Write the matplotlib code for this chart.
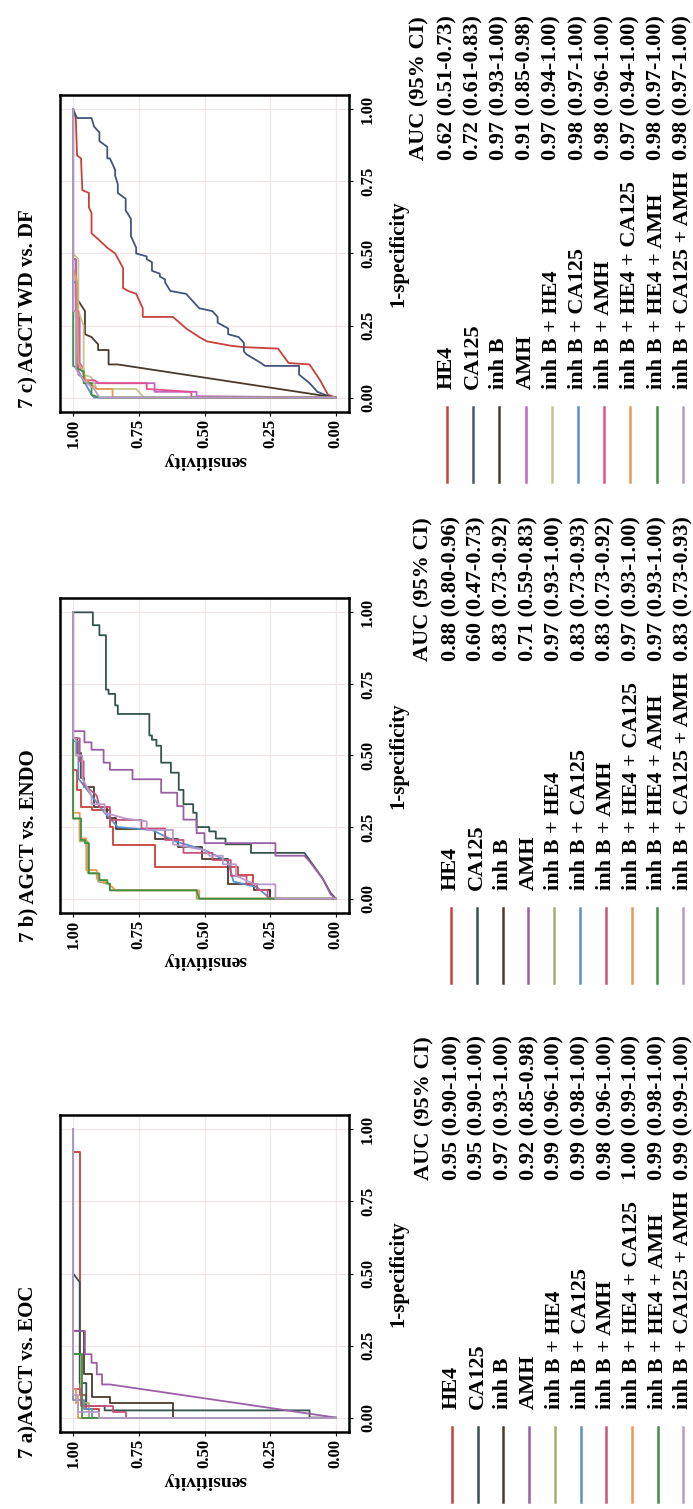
import matplotlib.pyplot as plt

W, H = 693, 1509

plt.rcParams['font.family'] = ['Liberation Serif', 'DejaVu Serif']
plt.rcParams['font.weight'] = 'bold'

markers = ["HE4", "CA125", "inh B", "AMH", "inh B + HE4", "inh B + CA125",
           "inh B + AMH", "inh B + HE4 + CA125", "inh B + HE4 + AMH",
           "inh B + CA125 + AMH"]
colors = ["#C8413A", "#34524E", "#4A3A2E", "#9A5FA6", "#A9AD72", "#5E8FC8",
          "#C9527C", "#E69A52", "#3F8F45", "#B99BCB"]
colors_c = ["#C8413A", "#44547C", "#4A3A2E", "#C464C8", "#C4C68C", "#5E8FC8",
            "#E0528C", "#E69A52", "#3F8F45", "#B99BCB"]

auc_eoc = ["0.95 (0.90-1.00)", "0.95 (0.90-1.00)", "0.97 (0.93-1.00)",
           "0.92 (0.85-0.98)", "0.99 (0.96-1.00)", "0.99 (0.98-1.00)",
           "0.98 (0.96-1.00)", "1.00 (0.99-1.00)", "0.99 (0.98-1.00)",
           "0.99 (0.99-1.00)"]
auc_endo = ["0.88 (0.80-0.96)", "0.60 (0.47-0.73)", "0.83 (0.73-0.92)",
            "0.71 (0.59-0.83)", "0.97 (0.93-1.00)", "0.83 (0.73-0.93)",
            "0.83 (0.73-0.92)", "0.97 (0.93-1.00)", "0.97 (0.93-1.00)",
            "0.83 (0.73-0.93)"]
auc_wddf = ["0.62 (0.51-0.73)", "0.72 (0.61-0.83)", "0.97 (0.93-1.00)",
            "0.91 (0.85-0.98)", "0.97 (0.94-1.00)", "0.98 (0.97-1.00)",
            "0.98 (0.96-1.00)", "0.97 (0.94-1.00)", "0.98 (0.97-1.00)",
            "0.98 (0.97-1.00)"]

# ROC curves as (sensitivity, 1-specificity)
eoc_he4 = [(1, 1), (1, .92), (.975, .92), (.975, .08), (.95, .08), (.95, .03), (.90, .03), (.90, 0), (0, 0)]
eoc_ca125 = [(1, 1), (1, .50), (.975, .47), (.975, .12), (.95, .12), (.95, .04), (.88, .04), (.88, .025),
             (.10, .025), (.10, 0), (0, 0)]
eoc_inhb = [(1, 1), (1, .30), (.96, .30), (.96, .15), (.93, .15), (.93, .07), (.86, .07), (.86, .05),
            (.62, .05), (.62, 0), (0, 0)]
eoc_amh = [(1, 1), (1, .30), (.955, .30), (.955, .22), (.93, .22), (.93, .19), (.91, .19), (.91, .15),
           (.89, .15), (.89, .115), (.86, .115), (0, 0)]
eoc_inhb_he4 = [(1, 1), (1, .22), (.97, .22), (.97, .05), (.94, .05), (.94, 0), (0, 0)]
eoc_inhb_ca125 = [(1, 1), (1, .06), (.96, .06), (.96, .03), (.93, .03), (.93, 0), (0, 0)]
eoc_inhb_amh = [(1, 1), (1, .10), (.97, .10), (.97, .04), (.85, .04), (.85, .02), (.80, .02), (.80, 0), (0, 0)]
eoc_inhb_he4_ca125 = [(1, 1), (1, .10), (.99, .10), (.99, .05), (.98, .05), (.98, 0), (0, 0)]
eoc_inhb_he4_amh = [(1, 1), (1, .22), (.965, .22), (.965, 0), (0, 0)]
eoc_inhb_ca125_amh = [(1, 1), (1, .08), (.98, .08), (.98, .02), (.90, .02), (.90, 0), (0, 0)]

endo_he4 = [(1, 1), (1, .45), (.985, .45), (.985, .38), (.97, .38), (.97, .32), (.93, .32), (.93, .311),
            (.86, .311), (.86, .252), (.848, .252), (.848, .188), (.689, .188), (.689, .111), (.372, .111),
            (.372, .082), (.317, .082), (.317, .05), (.30, .05), (.30, .029), (.25, .029), (.25, 0), (0, 0)]
endo_ca125 = [(1, 1), (.925, 1), (.925, .955), (.90, .955), (.90, .92), (.875, .92), (.875, .73), (.865, .73),
              (.865, .715), (.84, .715), (.84, .675), (.83, .675), (.83, .645), (.71, .645), (.71, .57),
              (.70, .57), (.70, .555), (.683, .555), (.683, .534), (.665, .534), (.665, .475), (.628, .475),
              (.628, .44), (.598, .44), (.598, .38), (.58, .38), (.58, .33), (.543, .33), (.543, .30),
              (.53, .30), (.53, .25), (.482, .25), (.482, .235), (.457, .235), (.457, .21), (.42, .21),
              (.42, .19), (.323, .19), (.323, .16), (.12, .16), (.10, .135), (.05, .07), (.02, .02), (0, 0)]
endo_inhb = [(1, 1), (1, .56), (.985, .56), (.985, .51), (.97, .51), (.97, .42), (.957, .42), (.957, .39),
             (.92, .39), (.92, .32), (.87, .32), (.87, .28), (.835, .28), (.835, .245), (.69, .245), (.69, .21),
             (.60, .21), (.60, .18), (.51, .18), (.51, .14), (.41, .14), (.41, .05), (.31, .05), (.31, .03),
             (.25, .03), (.25, 0), (0, 0)]
endo_amh = [(1, 1), (1, .585), (.957, .585), (.957, .546), (.93, .546), (.93, .52), (.884, .52), (.884, .475),
            (.86, .475), (.86, .45), (.774, .45), (.774, .417), (.665, .417), (.665, .37), (.604, .37),
            (.604, .323), (.58, .323), (.58, .276), (.53, .276), (.53, .229), (.50, .229), (.50, .194),
            (.23, .194), (.23, .15), (.12, .15), (.10, .13), (.05, .07), (.02, .015), (0, 0)]
endo_inhb_he4 = [(1, 1), (1, .28), (.975, .28), (.975, .20), (.945, .20), (.945, .09), (.905, .09), (.905, .06),
                 (.86, .05), (.86, .03), (.53, .03), (.53, 0), (0, 0)]
endo_inhb_ca125 = [(1, 1), (1, .55), (.98, .55), (.98, .42), (.93, .36), (.88, .30), (.83, .25), (.70, .24),
                   (.61, .20), (.50, .17), (.41, .13), (.39, .06), (.30, .04), (.25, 0), (0, 0)]
endo_inhb_amh = [(1, 1), (1, .56), (.975, .56), (.975, .48), (.96, .48), (.96, .40), (.91, .36), (.90, .32),
                 (.86, .32), (.86, .275), (.74, .275), (.74, .245), (.65, .245), (.65, .205), (.58, .205),
                 (.58, .16), (.47, .16), (.47, .135), (.40, .135), (.40, .08), (.34, .08), (.34, .05), (.30, .05),
                 (.30, .03), (.26, .03), (.26, 0), (0, 0)]
endo_inhb_he4_ca125 = [(1, 1), (1, .30), (.975, .30), (.975, .21), (.95, .21), (.95, .10), (.91, .10), (.91, .07),
                       (.88, .06), (.85, .04), (.84, .029), (.52, .029), (.52, 0), (0, 0)]
endo_inhb_he4_amh = [(1, 1), (1, .28), (.97, .28), (.97, .205), (.955, .205), (.955, .194), (.94, .194),
                     (.94, .088), (.90, .088), (.90, .065), (.87, .065), (.87, .053), (.86, .053), (.86, .029),
                     (.53, .029), (.52, 0), (0, 0)]
endo_inhb_ca125_amh = [(1, 1), (1, .56), (.99, .56), (.99, .50), (.965, .50), (.965, .42), (.93, .36), (.93, .33),
                       (.88, .33), (.88, .30), (.80, .28), (.72, .27), (.72, .24), (.62, .24), (.62, .19),
                       (.50, .17), (.48, .15), (.43, .15), (.43, .12), (.38, .12), (.38, .08), (.31, .05),
                       (.23, .05), (.23, 0), (0, 0)]

wddf_he4 = [(1, 1), (.99, .97), (.985, .84), (.97, .83), (.965, .72), (.94, .71), (.94, .66), (.93, .64),
            (.93, .57), (.905, .55), (.87, .52), (.84, .50), (.81, .45), (.81, .38), (.79, .37), (.76, .36),
            (.735, .31), (.735, .28), (.71, .28), (.62, .28), (.57, .24), (.52, .21), (.49, .195), (.40, .18),
            (.35, .175), (.22, .17), (.18, .12), (.10, .115), (.06, .06), (.03, .01), (0, 0)]
wddf_ca125 = [(1, 1), (.985, .97), (.93, .97), (.92, .94), (.90, .92), (.90, .89), (.87, .87), (.87, .83),
              (.86, .83), (.84, .79), (.84, .77), (.83, .74), (.83, .71), (.80, .69), (.80, .65), (.78, .62),
              (.78, .56), (.76, .52), (.76, .50), (.72, .49), (.72, .48), (.70, .47), (.70, .44), (.67, .43),
              (.67, .42), (.65, .41), (.65, .40), (.63, .37), (.57, .36), (.55, .34), (.52, .31), (.47, .30),
              (.45, .28), (.45, .26), (.41, .24), (.41, .22), (.37, .21), (.35, .19), (.35, .16), (.34, .15),
              (.285, .12), (.27, .11), (.14, .11), (.14, .08), (.10, .05), (.07, .02), (.015, 0), (0, 0)]
wddf_inhb = [(1, 1), (1, .48), (.99, .48), (.99, .35), (.955, .30), (.955, .22), (.93, .21), (.905, .185),
             (.905, .165), (.865, .165), (.865, .115), (.83, .115), (0, 0)]
wddf_amh = [(1, 1), (1, .48), (.99, .48), (.99, .28), (.975, .28), (.975, .12), (.96, .10), (.955, .05),
            (.69, .05), (.69, .02), (.53, .02), (.53, .005), (0, 0)]
wddf_inhb_he4 = [(1, 1), (1, .50), (.98, .48), (.98, .30), (.96, .25), (.96, .08), (.93, .07), (.91, .03),
                 (.76, .03), (.73, 0), (0, 0)]
wddf_inhb_ca125 = [(1, 1), (1, .40), (.985, .40), (.985, .10), (.93, .01), (.92, 0), (0, 0)]
wddf_inhb_amh = [(1, 1), (1, .30), (.98, .30), (.98, .08), (.95, .06), (.92, .06), (.90, .05), (.72, .05),
                 (.72, .03), (.55, .02), (.55, 0), (0, 0)]
wddf_inhb_he4_ca125 = [(1, 1), (1, .45), (.985, .40), (.98, .12), (.95, .06), (.91, .03), (.85, .03), (.85, 0), (0, 0)]
wddf_inhb_he4_amh = [(1, 1), (1, .11), (.96, .09), (.96, .05), (.93, .05), (.93, .01), (.90, 0), (0, 0)]
wddf_inhb_ca125_amh = [(1, 1), (1, .30), (.99, .30), (.99, .10), (.96, .06), (.92, .03), (.90, 0), (0, 0)]

curves_eoc = [eoc_he4, eoc_ca125, eoc_inhb, eoc_amh, eoc_inhb_he4, eoc_inhb_ca125, eoc_inhb_amh,
              eoc_inhb_he4_ca125, eoc_inhb_he4_amh, eoc_inhb_ca125_amh]
curves_endo = [endo_he4, endo_ca125, endo_inhb, endo_amh, endo_inhb_he4, endo_inhb_ca125, endo_inhb_amh,
               endo_inhb_he4_ca125, endo_inhb_he4_amh, endo_inhb_ca125_amh]
curves_wddf = [wddf_he4, wddf_ca125, wddf_inhb, wddf_amh, wddf_inhb_he4, wddf_inhb_ca125, wddf_inhb_amh,
               wddf_inhb_he4_ca125, wddf_inhb_he4_amh, wddf_inhb_ca125_amh]

ticks = [0, 0.25, 0.5, 0.75, 1.0]
tick_labels = ["0.00", "0.25", "0.50", "0.75", "1.00"]

fig = plt.figure(figsize=(W / 100, H / 100), dpi=100)
# overlay axes in pixel coordinates for titles, labels and the legend tables
lay = fig.add_axes([0, 0, 1, 1])
lay.set_xlim(0, W)
lay.set_ylim(H, 0)
lay.axis('off')


def draw_panel(top, bottom, title, title_bottom, curves, cols, aucs, x0, dx):
    ax = fig.add_axes([60 / W, 1 - bottom / H, 289 / W, (bottom - top) / H])
    for pts, c in zip(curves, cols):
        ax.plot([p[0] for p in pts], [p[1] for p in pts], color=c, lw=1.3)
    ax.set_xlim(1.05, -0.05)
    ax.set_ylim(-0.05, 1.05)
    ax.set_xticks(ticks)
    ax.set_yticks(ticks)
    ax.set_xticklabels(tick_labels, rotation=90)
    ax.yaxis.tick_right()
    ax.set_yticklabels(tick_labels, rotation=90, va='center')
    ax.grid(color='#F1E6E6', lw=0.9)
    ax.set_axisbelow(True)
    for sp in ax.spines.values():
        sp.set_linewidth(1.8)
    ax.tick_params(axis='x', length=3, width=0.8, pad=2, labelsize=12)
    ax.tick_params(axis='y', length=3, width=0.8, pad=5, labelsize=12)

    lay.text(28, title_bottom, title, rotation=90, ha='center', va='bottom', fontsize=15)
    lay.text(398, (top + bottom) / 2, "1-specificity", rotation=90, ha='center', va='center', fontsize=15)
    lay.text(205, bottom + 48, "sensitivity", rotation=180, ha='center', va='center', fontsize=14)

    lay.text(x0 - 28, bottom - 252, "AUC (95% CI)", rotation=90, ha='center', va='bottom', fontsize=16)
    for k, (name, c, auc) in enumerate(zip(markers, cols, aucs)):
        x = x0 + k * dx
        lay.plot([x, x], [bottom - 5, bottom + 70], color=c, lw=1.8)
        lay.text(x, bottom - 23, name, rotation=90, ha='center', va='bottom', fontsize=16)
        lay.text(x, bottom - 252, auc, rotation=90, ha='center', va='bottom', fontsize=16)


draw_panel(1115, 1432, "7 a)AGCT vs. EOC", 1458, curves_eoc, colors, auc_eoc, 452, 25.7)
draw_panel(598, 913, "7 b) AGCT vs. ENDO", 942, curves_endo, colors, auc_endo, 451, 25.8)
draw_panel(95, 412, "7 c) AGCT WD vs. DF", 408, curves_wddf, colors_c, auc_wddf, 447, 26.2)

plt.savefig("out.png", dpi=100)
